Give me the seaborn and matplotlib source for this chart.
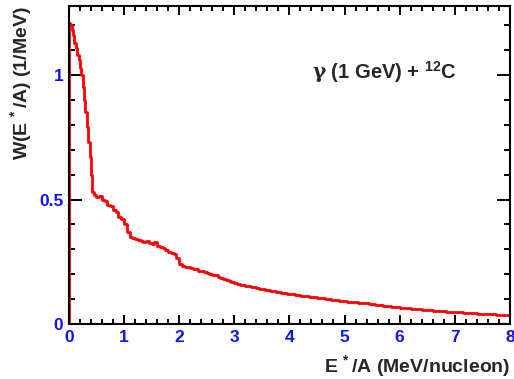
import numpy as np
import matplotlib
matplotlib.use("Agg")
import matplotlib.pyplot as plt
from matplotlib.ticker import MultipleLocator
import pandas as pd
import seaborn as sns


# histogram contents: 0.025 MeV/nucleon bins up to 0.45, then 0.05 bins up to 8
FINE_WIDTH = 0.025
COARSE_WIDTH = 0.05
W_0_TO_045 = [1.21, 1.20, 1.18, 1.16, 1.13, 1.11, 1.08, 1.06, 1.03,
              1.00, 0.95, 0.90, 0.85, 0.79, 0.73, 0.67, 0.60, 0.53]
W_045_TO_1 = [0.52, 0.51, 0.515, 0.50, 0.495, 0.48, 0.475, 0.46, 0.45, 0.43, 0.42]
W_1_TO_2 = [0.40, 0.37, 0.35, 0.345, 0.34, 0.338, 0.335, 0.33, 0.332, 0.325,
            0.322, 0.33, 0.315, 0.31, 0.305, 0.298, 0.29, 0.285, 0.28, 0.265]
W_2_TO_3 = [0.24, 0.232, 0.228, 0.23, 0.225, 0.222, 0.22, 0.215, 0.213, 0.21,
            0.205, 0.202, 0.198, 0.195, 0.19, 0.185, 0.18, 0.176, 0.172, 0.168]
W_3_TO_4 = [0.163, 0.160, 0.158, 0.156, 0.153, 0.151, 0.149, 0.147, 0.144, 0.142,
            0.140, 0.138, 0.136, 0.134, 0.132, 0.130, 0.128, 0.126, 0.124, 0.122]
W_4_TO_5 = [0.121, 0.119, 0.118, 0.116, 0.114, 0.113, 0.112, 0.110, 0.108, 0.107,
            0.105, 0.104, 0.103, 0.101, 0.100, 0.098, 0.097, 0.095, 0.094, 0.092]
W_5_TO_6 = [0.091, 0.090, 0.089, 0.088, 0.088, 0.086, 0.085, 0.083, 0.083, 0.081,
            0.080, 0.078, 0.077, 0.076, 0.074, 0.073, 0.071, 0.070, 0.069, 0.067]
W_6_TO_7 = [0.066, 0.066, 0.064, 0.063, 0.062, 0.061, 0.060, 0.059, 0.058, 0.057,
            0.056, 0.055, 0.054, 0.053, 0.052, 0.052, 0.051, 0.050, 0.049, 0.049]
W_7_TO_8 = [0.048, 0.047, 0.047, 0.046, 0.045, 0.044, 0.044, 0.043, 0.042, 0.042,
            0.041, 0.040, 0.040, 0.039, 0.039, 0.038, 0.037, 0.037, 0.036, 0.036]

X_TICKS = [0, 1, 2, 3, 4, 5, 6, 7, 8]
Y_TICKS = [0, 0.5, 1]
Y_TICK_LABELS = ["0", "0.5", "1"]

REACTION_LABEL = r"$\gamma$ (1 GeV) + $^{12}$C"
X_LABEL = r"E$^{\,*}$/A (MeV/nucleon)"
Y_LABEL = r"W(E$^{\,*}$/A) (1/MeV)"

TICK_BLUE = "#1010ff"

sns.set_style("ticks")
plt.rcParams["font.family"] = ["Liberation Sans", "DejaVu Sans"]
plt.rcParams["font.weight"] = "bold"
plt.rcParams["mathtext.fontset"] = "custom"
plt.rcParams["mathtext.rm"] = "Liberation Sans:bold"
plt.rcParams["mathtext.it"] = "DejaVu Serif"
plt.rcParams["mathtext.bf"] = "Liberation Sans:bold"

coarse = W_045_TO_1 + W_1_TO_2 + W_2_TO_3 + W_3_TO_4 + W_4_TO_5 + W_5_TO_6 + W_6_TO_7 + W_7_TO_8
values = W_0_TO_045 + coarse
fine_edges = np.arange(len(W_0_TO_045)) * FINE_WIDTH
coarse_edges = len(W_0_TO_045) * FINE_WIDTH + np.arange(len(coarse) + 1) * COARSE_WIDTH
edges = np.concatenate([fine_edges, coarse_edges])
hist = pd.DataFrame({
    "e": np.concatenate([[0.0], edges]),
    "w": [0.0] + values + [values[-1]],
})

fig = plt.figure(figsize=(5.14, 3.79), dpi=100)
ax = fig.add_axes([0.134, 0.145, 0.858, 0.839])

sns.lineplot(data=hist, x="e", y="w", color="red", linewidth=2.0,
             drawstyle="steps-post", ax=ax, sort=False, estimator=None)

ax.set_xlim(0, 8)
ax.set_ylim(0, 1.277)
ax.set_xticks(X_TICKS)
ax.set_xticklabels([str(t) for t in X_TICKS])
ax.set_yticks(Y_TICKS)
ax.set_yticklabels(Y_TICK_LABELS)
ax.xaxis.set_minor_locator(MultipleLocator(0.2))
ax.yaxis.set_minor_locator(MultipleLocator(0.1))

ax.tick_params(axis="both", which="both", direction="in", top=True, right=True,
               colors="black", width=1.4, labelcolor=TICK_BLUE, labelsize=12.5)
ax.tick_params(axis="x", which="major", length=6.5, pad=4)
ax.tick_params(axis="x", which="minor", length=3.3)
ax.tick_params(axis="y", which="major", length=9.4, pad=4)
ax.tick_params(axis="y", which="minor", length=4.5)
for lab in ax.get_xticklabels() + ax.get_yticklabels():
    lab.set_fontweight("bold")
for side in ax.spines.values():
    side.set_linewidth(1.5)
    side.set_color("black")

ax.set_xlabel(X_LABEL, fontsize=14, fontweight="bold", loc="right", labelpad=6)
ax.set_ylabel(Y_LABEL, fontsize=14, fontweight="bold", loc="top", labelpad=4)

ax.text(5.72, 1.01, REACTION_LABEL, fontsize=14.5, fontweight="bold",
        ha="center", va="center")

fig.savefig("out.png", dpi=100)
